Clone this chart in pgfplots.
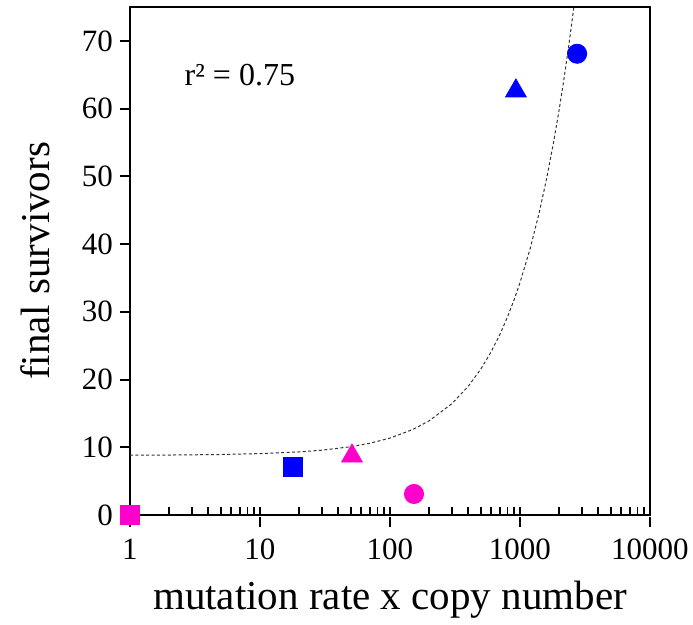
\documentclass[border=0pt]{standalone}
\usepackage{pgfplots}
\pgfplotsset{compat=1.18}
\usepackage{fontspec}
\setmainfont{Liberation Serif}
\definecolor{dotpink}{HTML}{FF00CC}
\definecolor{dotblue}{HTML}{0000FF}

\begin{document}
\begin{tikzpicture}
\begin{axis}[
    xmode=log,
    scale only axis,
    width=260pt,
    height=254pt,
    xmin=1, xmax=10000,
    ymin=0, ymax=75,
    xtick={1,10,100,1000,10000},
    xticklabels={1,10,100,1000,10000},
    ytick={0,10,20,30,40,50,60,70},
    xtick pos=bottom,
    ytick pos=left,
    xtick align=inside,
    ytick align=outside,
    major tick length=5pt,
    minor tick length=4pt,
    major x tick style={yshift=-6pt},
    tick style={line width=1pt,black},
    minor tick style={line width=0.8pt},
    axis line style={line width=1pt},
    tick label style={font=\rmfamily\fontsize{15.5}{18}\selectfont},
    /pgf/number format/assume math mode=true,
    xticklabel style={anchor=north, yshift=-8.5pt},
    xlabel={mutation rate x copy number},
    ylabel={final survivors},
    label style={font=\rmfamily\fontsize{20.5}{23}\selectfont},
    xlabel style={at={(axis description cs:0.5,-0.1673)}, anchor=center},
    ylabel style={at={(axis description cs:-0.1827,0.5)}, anchor=center},
    clip mode=individual,
]
\addplot[dash pattern=on 1.5pt off 1.2pt, black!80, line width=0.5pt]
    coordinates {(1,8.83) (2,8.85) (5,8.93) (10,9.06) (20,9.31) (30,9.57)
    (50,10.08) (70,10.59) (100,11.35) (150,12.63) (200,13.9) (300,16.45)
    (400,19.0) (500,21.55) (600,24.1) (700,26.65) (800,29.2) (900,31.75)
    (1000,34.3) (1200,39.4) (1400,44.5) (1600,49.6) (1800,54.7)
    (2000,59.8) (2200,64.9) (2400,70.0) (2596,75.0)};
% pink series
\addplot[only marks, mark=square*, mark size=4.7pt, color=dotpink] coordinates {(1,0)};
\addplot[only marks, mark=triangle*, mark size=6pt, color=dotpink] coordinates {(51,8.7)};
\addplot[only marks, mark=*, mark size=4.8pt, color=dotpink] coordinates {(153,3.1)};
% blue series
\addplot[only marks, mark=square*, mark size=4.7pt, color=dotblue] coordinates {(18,7.1)};
\addplot[only marks, mark=triangle*, mark size=6pt, color=dotblue] coordinates {(930,62.6)};
\addplot[only marks, mark=*, mark size=4.8pt, color=dotblue] coordinates {(2750,68.1)};
\node[font=\rmfamily\fontsize{16}{18}\selectfont] at (axis cs:7,65) {r² = 0.75};
\end{axis}
\pgfresetboundingbox
\path[use as bounding box] (-65pt,-55pt) rectangle (281.5pt,257.5pt);
\end{tikzpicture}
\end{document}
